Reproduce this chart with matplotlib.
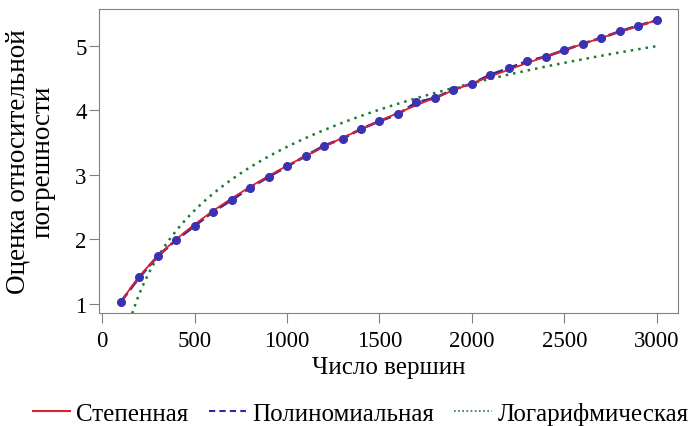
import numpy as np
import matplotlib.pyplot as plt

plt.rcParams['font.family'] = ['Liberation Serif', 'DejaVu Serif']

# number of vertices and error estimate
vertices = [100, 200, 300, 400, 500, 600, 700, 800, 900, 1000,
            1100, 1200, 1300, 1400, 1500, 1600, 1700, 1800, 1900, 2000,
            2100, 2200, 2300, 2400, 2500, 2600, 2700, 2800, 2900, 3000]
error = [1.03, 1.41, 1.74, 1.99, 2.21, 2.43, 2.61, 2.80, 2.97, 3.13,
         3.29, 3.45, 3.56, 3.71, 3.83, 3.94, 4.12, 4.19, 4.32, 4.41,
         4.55, 4.65, 4.76, 4.83, 4.93, 5.03, 5.12, 5.22, 5.31, 5.39]
labels = ['Степенная', 'Полиномиальная', 'Логарифмическая']

x = np.array(vertices, dtype=float)
y = np.array(error)

# trend lines fitted to the points
b, log_a = np.polyfit(np.log(x), np.log(y), 1)
xs = np.linspace(100, 3000, 300)
power_fit = np.exp(log_a) * xs ** b
k, c = np.polyfit(np.log(x), y, 1)
xl = np.linspace(150, 3000, 300)
log_fit = k * np.log(xl) + c

fig = plt.figure(figsize=(6.94, 4.27), dpi=100)
ax = fig.add_axes([0.143, 0.264, 0.834, 0.713])

ax.plot(x, y, color='#2b2ba8', lw=2, ls='--', dashes=(4, 1.5), zorder=2)
ax.plot(xs, power_fit, color='#e0202a', lw=1.3, zorder=3)
ax.plot(xl, log_fit, color='#1e7a2e', lw=1.8, ls=(0, (1, 2)), zorder=2)
ax.plot(x, y, 'o', color='#3a32b0', ms=5.5, zorder=4)

ax.set_xlim(-16, 3115)
ax.set_ylim(0.856, 5.57)
ax.set_xticks([0, 500, 1000, 1500, 2000, 2500, 3000])
ax.set_yticks([1, 2, 3, 4, 5])
ax.tick_params(labelsize=16.5, length=7, color='#808080', direction='out')
ax.tick_params(axis='y', pad=2)
ax.tick_params(axis='x', pad=5)
for s in ax.spines.values():
    s.set_color('#808080')

ax.set_xlabel('Число вершин', fontsize=18, labelpad=4)
ax.set_ylabel('Оценка относительной\nпогрешности', fontsize=19.5, labelpad=14, linespacing=1.0)

handles = [
    plt.Line2D([], [], color='#e0202a', lw=1.5),
    plt.Line2D([], [], color='#2b2ba8', lw=1.5, ls=(0, (3, 2))),
    plt.Line2D([], [], color='#1e7a2e', lw=1.2, ls=(0, (1, 1.5))),
]
fig.legend(handles, labels, loc='lower center', bbox_to_anchor=(0.52, -0.05), ncol=3,
           frameon=False, fontsize=18, handlelength=1.5, handletextpad=0.25,
           columnspacing=0.8)

fig.savefig('out.png', dpi=100)
